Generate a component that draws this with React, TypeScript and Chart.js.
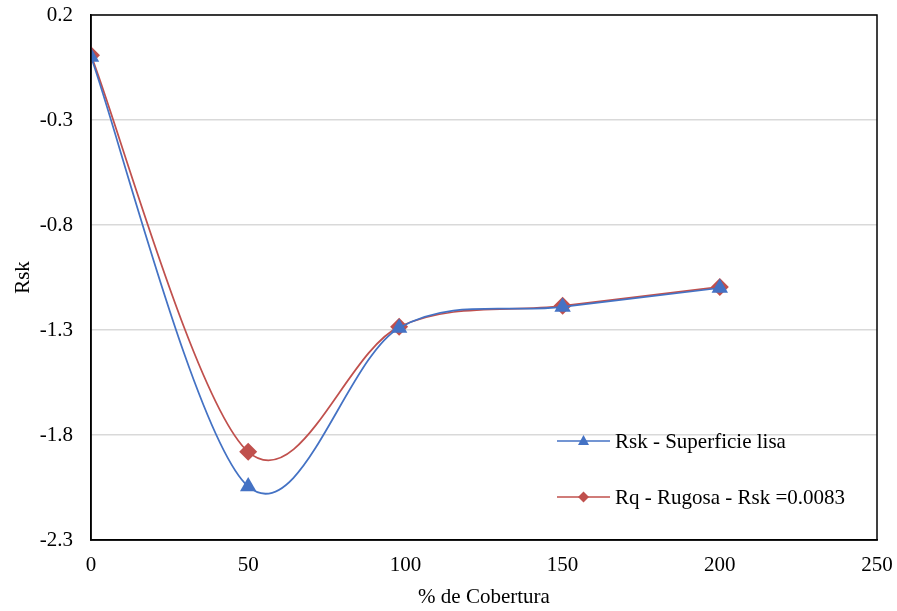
import React, { useEffect, useRef } from "react";
import { Chart, registerables } from "chart.js";

Chart.register(...registerables);

const xLisa = [0, 50, 98, 150, 200];
const yLisa = [0.0, -2.045, -1.29, -1.19, -1.1];
const xRugosa = [0, 50, 98, 150, 200];
const yRugosa = [0.008, -1.88, -1.285, -1.185, -1.095];
const seriesNames = ["Rsk - Superficie lisa", "Rq - Rugosa - Rsk =0.0083"];
const xTitle = "% de Cobertura";
const yTitle = "Rsk";

const BLUE = "#4472C4";
const RED = "#C0504D";
const FONT = "'Liberation Serif', 'Times New Roman', serif";
const FS = 21;

function drawMarker(ctx: CanvasRenderingContext2D, style: string, x: number, y: number, color: string) {
  ctx.fillStyle = color;
  ctx.beginPath();
  if (style === "triangle") {
    ctx.moveTo(x, y - 6);
    ctx.lineTo(x + 5.5, y + 4);
    ctx.lineTo(x - 5.5, y + 4);
  } else {
    ctx.moveTo(x, y - 5.5);
    ctx.lineTo(x + 5.5, y);
    ctx.lineTo(x, y + 5.5);
    ctx.lineTo(x - 5.5, y);
  }
  ctx.closePath();
  ctx.fill();
}

export default function App() {
  const ref = useRef<HTMLCanvasElement | null>(null);
  useEffect(() => {
    document.body.style.margin = "0";
    const canvas = ref.current!;
    // Excel-like smoothing (Catmull-Rom control points)
    const smooth = {
      id: "smooth",
      beforeDatasetDraw(chart: any, args: any) {
        const meta = args.meta;
        const line = meta.dataset;
        if (!line) return;
        line.updateControlPoints(chart.chartArea, "x");
        const pts = meta.data;
        const n = pts.length;
        for (let i = 0; i < n; i++) {
          const p = pts[i];
          const prev = pts[Math.max(0, i - 1)];
          const next = pts[Math.min(n - 1, i + 1)];
          const dx = (next.x - prev.x) / 6;
          const dy = (next.y - prev.y) / 6;
          p.cp1x = p.x - dx;
          p.cp1y = p.y - dy;
          p.cp2x = p.x + dx;
          p.cp2y = p.y + dy;
        }
      },
    };
    const frame = {
      id: "frame",
      afterDraw(chart: any) {
        const { ctx, chartArea: a } = chart;
        ctx.save();
        ctx.strokeStyle = "#000";
        ctx.lineWidth = 1.5;
        ctx.strokeRect(a.left, a.top, a.right - a.left, a.bottom - a.top);
        const items = [
          { color: BLUE, style: "triangle", label: seriesNames[0], y: a.top + 426 },
          { color: RED, style: "rectRot", label: seriesNames[1], y: a.top + 482 },
        ];
        const lx0 = a.left + 466;
        const lx1 = a.left + 519;
        for (const it of items) {
          ctx.strokeStyle = it.color;
          ctx.lineWidth = 1.5;
          ctx.beginPath();
          ctx.moveTo(lx0, it.y);
          ctx.lineTo(lx1, it.y);
          ctx.stroke();
          drawMarker(ctx, it.style, (lx0 + lx1) / 2, it.y, it.color);
          ctx.fillStyle = "#000";
          ctx.font = FS + "px " + FONT;
          ctx.textBaseline = "middle";
          ctx.textAlign = "left";
          ctx.fillText(it.label, lx1 + 5, it.y + 1);
        }
        ctx.restore();
      },
    };
    const chart = new Chart(canvas, {
      type: "scatter",
      data: {
        datasets: [
          {
            label: seriesNames[0],
            data: xLisa.map((x, i) => ({ x, y: yLisa[i] })),
            showLine: true,
            borderColor: BLUE,
            backgroundColor: BLUE,
            borderWidth: 1.75,
            tension: 0.4,
            pointStyle: "triangle",
            pointRadius: 9.5,
            pointBorderWidth: 0,
          },
          {
            label: seriesNames[1],
            data: xRugosa.map((x, i) => ({ x, y: yRugosa[i] })),
            showLine: true,
            borderColor: RED,
            backgroundColor: RED,
            borderWidth: 1.75,
            tension: 0.4,
            pointStyle: "rectRot",
            pointRadius: 9,
            pointBorderWidth: 0,
          },
        ],
      },
      options: {
        animation: false,
        responsive: false,
        layout: { padding: { top: 15, right: 20, left: 0, bottom: 0 } },
        plugins: { legend: { display: false }, tooltip: { enabled: false } },
        scales: {
          x: {
            type: "linear",
            min: 0,
            max: 250,
            ticks: { stepSize: 50, color: "#000", font: { family: FONT, size: FS }, padding: 13 },
            grid: { display: false, drawTicks: false },
            border: { color: "#000", width: 1.5 },
            title: { display: true, text: xTitle, color: "#000", font: { family: FONT, size: FS }, padding: { top: 4, bottom: 1 } },
            afterFit(s: any) {
              s.height = 71;
              s.paddingLeft = 0;
              s.paddingRight = 0;
            },
          },
          y: {
            type: "linear",
            min: -2.3,
            max: 0.2,
            ticks: {
              stepSize: 0.5,
              color: "#000",
              font: { family: FONT, size: FS },
              padding: 18,
              callback: (v: any) => Number(v).toFixed(1),
            },
            grid: { color: "#D9D9D9", lineWidth: 1.5, drawTicks: false },
            border: { color: "#000", width: 1.5 },
            title: { display: true, text: yTitle, color: "#000", font: { family: FONT, size: FS }, padding: { top: 11, bottom: 4 } },
            afterFit(s: any) {
              s.width = 91;
              s.paddingTop = 0;
              s.paddingBottom = 0;
            },
          },
        },
      },
      plugins: [smooth, frame],
    } as any);
    return () => chart.destroy();
  }, []);
  return (
    <div style={{ width: 897, height: 611 }}>
      <canvas ref={ref} width={897} height={611} style={{ display: "block" }} />
    </div>
  );
}
